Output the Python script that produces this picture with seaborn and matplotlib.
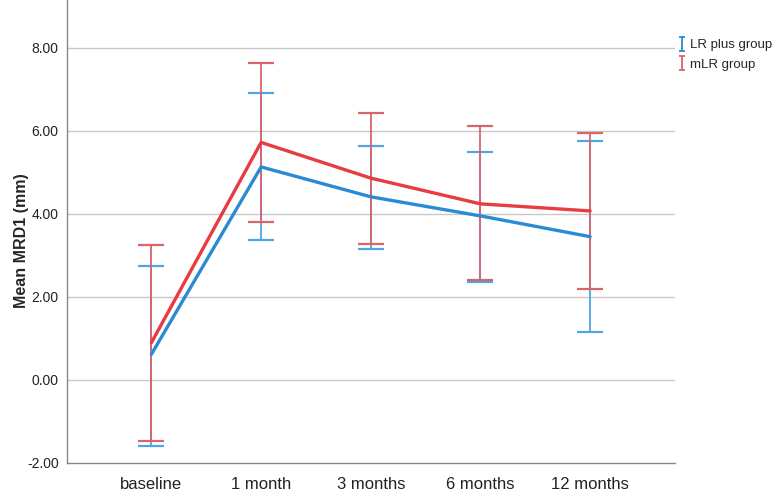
import numpy as np
import pandas as pd
import matplotlib
matplotlib.use("Agg")
import matplotlib.pyplot as plt
import seaborn as sns
from matplotlib.lines import Line2D
from matplotlib.path import Path

sns.set_theme(style="white")
plt.rcParams['font.family'] = ['Liberation Sans', 'DejaVu Sans']

# data
timepoints = ['baseline', '1 month', '3 months', '6 months', '12 months']
lr_plus_mean = [0.62, 5.13, 4.41, 3.95, 3.45]
lr_plus_upper = [2.75, 6.91, 5.63, 5.49, 5.75]
lr_plus_lower = [-1.58, 3.37, 3.16, 2.37, 1.15]
mlr_mean = [0.90, 5.72, 4.86, 4.24, 4.07]
mlr_upper = [3.26, 7.64, 6.42, 6.11, 5.94]
mlr_lower = [-1.46, 3.81, 3.28, 2.40, 2.18]
yticks = [-2, 0, 2, 4, 6, 8]

blue = '#2a8bd4'
red = '#e63c42'
blue_bar = '#4ea5e2'
red_bar = '#d8646c'

df = pd.DataFrame({
    'time': timepoints * 2,
    'x': list(range(len(timepoints))) * 2,
    'mean': lr_plus_mean + mlr_mean,
    'group': ['LR plus group'] * 5 + ['mLR group'] * 5,
})

fig = plt.figure(figsize=(7.81, 4.94), dpi=100)
ax = fig.add_axes([0.0858, 0.0628, 0.778, 0.9372])

x = np.arange(len(timepoints))
for mean, lo, hi, col in [(lr_plus_mean, lr_plus_lower, lr_plus_upper, blue_bar),
                          (mlr_mean, mlr_lower, mlr_upper, red_bar)]:
    mean = np.array(mean)
    yerr = [mean - np.array(lo), np.array(hi) - mean]
    ax.errorbar(x, mean, yerr=yerr, fmt='none', ecolor=col, elinewidth=1.3,
                capsize=9.5, capthick=1.6, zorder=2)

sns.lineplot(data=df, x='x', y='mean', hue='group', palette=[blue, red],
             linewidth=2.4, ax=ax, legend=False, zorder=3)

ax.set_xlim(-0.77, 4.77)
ax.set_ylim(-2, 9.15)
ax.set_yticks(yticks)
ax.set_yticklabels([f'{v:.2f}' for v in yticks], fontsize=10, color='#222222')
ax.set_xticks(x)
ax.set_xticklabels(timepoints, fontsize=12, color='#222222')
ax.tick_params(axis='y', length=0, pad=6)
ax.tick_params(axis='x', length=0, pad=10)
ax.set_xlabel('')
ax.set_ylabel('Mean MRD1 (mm)', fontsize=11.5, fontweight='bold')
ax.yaxis.set_label_coords(-0.063, 0.48)

for v in yticks[1:]:
    ax.axhline(v, color='#c8c8c8', linewidth=1.0, zorder=1)
for side in ['top', 'right']:
    ax.spines[side].set_visible(False)
for side in ['left', 'bottom']:
    ax.spines[side].set_color('#888888')
    ax.spines[side].set_linewidth(1.0)

# "I" shaped error-bar glyph for the legend
ibeam = Path([(-0.4, 1), (0.4, 1), (0, 1), (0, -1), (-0.4, -1), (0.4, -1)],
             [Path.MOVETO, Path.LINETO, Path.MOVETO, Path.LINETO, Path.MOVETO, Path.LINETO])
handles = [Line2D([0], [0], marker=ibeam, linestyle='none', markeredgecolor=blue,
                  markerfacecolor='none', markersize=10, markeredgewidth=1.3),
           Line2D([0], [0], marker=ibeam, linestyle='none', markeredgecolor=red_bar,
                  markerfacecolor='none', markersize=10, markeredgewidth=1.3)]
fig.legend(handles, ['LR plus group', 'mLR group'], loc='upper left',
           bbox_to_anchor=(0.85, 0.945), frameon=False, fontsize=9.5,
           handletextpad=0.1, labelspacing=0.55, handlelength=1.0)

fig.savefig('out.png', dpi=100)
